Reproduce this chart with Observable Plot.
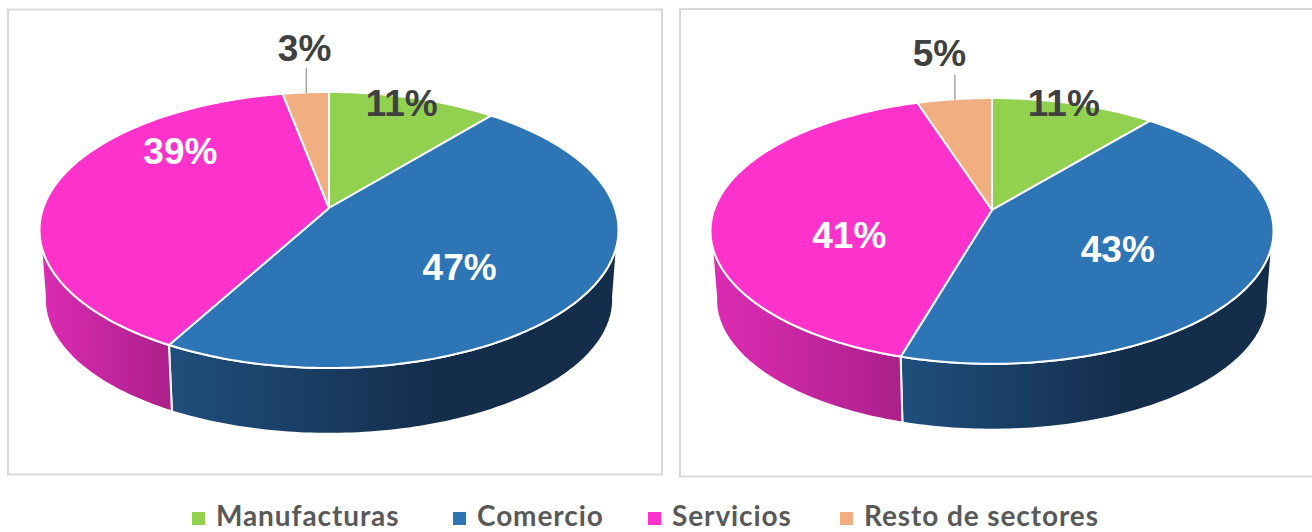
<!DOCTYPE html>
<html>
<head>
<meta charset="utf-8">
<script src="https://cdn.jsdelivr.net/npm/d3@7"></script>
<script src="https://cdn.jsdelivr.net/npm/@observablehq/plot@0.6"></script>
<style>
html,body{margin:0;padding:0;background:#fff;width:1312px;height:532px;overflow:hidden}
#chart svg{display:block}
#legend{position:relative;height:32px;font-family:"Lato",sans-serif;font-weight:700;font-size:28px;letter-spacing:.9px;color:#595959}
#legend .item{position:absolute;top:2px;white-space:nowrap;line-height:26px}
#legend .sw{position:absolute;top:12px;width:13px;height:13px}
</style>
</head>
<body>
<div id="chart"></div>
<div id="legend"></div>
<script>
// ---- data ----
const categories = ["Manufacturas", "Comercio", "Servicios", "Resto de sectores"];
const colors = ["#92d050", "#2e75b6", "#ff33cc", "#f1ae81"];
const valuesLeft = [11, 47, 39, 3];
const valuesRight = [11, 43.5, 40.5, 5];
const labelsLeft = ["11%", "47%", "39%", "3%"];
const labelsRight = ["11%", "43%", "41%", "5%"];

// ---- layout (pie geometry, not data) ----
const W = 1312, H = 500;
const pieLeft = {
  cx: 329, cy: 208, A: 285.8, B: 134.5, k: 0.1594,
  cx2: 329, cy2: 278, A2: 280.5, B2: 131,
  labelShift: [-1.7, 10.2, 29.6, 1.2], labelRadius: [0.928, 0.595, 0.715, 1.47]
};
const pieRight = {
  cx: 992, cy: 210, A: 278, B: 129.6, k: 0.1573,
  cx2: 992, cy2: 279, A2: 272.5, B2: 127,
  labelShift: [-2.4, 6.5, -20.4, 0], labelRadius: [0.984, 0.521, 0.536, 1.503]
};
const frames = [
  {x1: 8, x2: 662, y1: 9.5, y2: 474.5},
  {x1: 680, x2: 1340, y1: 9, y2: 476.5}
];
const legendAt = [[192, 216], [453, 477], [648, 672], [840, 864]];

// ---- geometry ----
const rad = d => d * Math.PI / 180;
function topPoint(p, deg, r = 1) {
  const u = r * Math.sin(rad(deg)), v = r * Math.cos(rad(deg)), w = 1 + p.k * v;
  return [p.cx + p.A * u / w, p.cy - p.B * v / w];
}
function botPoint(p, deg) {
  const u = Math.sin(rad(deg)), v = Math.cos(rad(deg)), w = 1 + p.k * v;
  return [p.cx2 + p.A2 * u / w, p.cy2 - p.B2 * v / w];
}
function arcAngles(a, b) {
  const out = d3.range(a, b, 1);
  out.push(b);
  return out;
}
function slices(values) {
  let acc = 0;
  return values.map((v, i) => {
    const s = {category: categories[i], start: acc * 3.6, end: (acc + v) * 3.6, mid: (acc + v / 2) * 3.6};
    acc += v;
    return s;
  });
}
function pieMarks(p, values, labels) {
  const ss = slices(values);
  const marks = [];
  // visible wall limits
  const wallFrom = 98, wallTo = 262;
  ss.forEach((s, i) => {
    const a = Math.max(s.start, wallFrom), b = Math.min(s.end, wallTo);
    if (b <= a) return;
    const pts = arcAngles(a, b).map(d => ({t: topPoint(p, d), b: botPoint(p, d)}));
    marks.push(Plot.area(pts, {
      x1: d => d.t[0], y1: d => d.t[1], x2: d => d.b[0], y2: d => d.b[1],
      fill: i === 1 ? "url(#wallBlue)" : "url(#wallPink)",
      stroke: "white", strokeWidth: 2
    }));
  });
  ss.forEach(s => {
    const pts = arcAngles(s.start, s.end).map(d => ({category: s.category, e: topPoint(p, d)}));
    marks.push(Plot.area(pts, {
      x1: () => p.cx, y1: () => p.cy, x2: d => d.e[0], y2: d => d.e[1],
      fill: "category", stroke: "white", strokeWidth: 2, strokeLinejoin: "round"
    }));
  });
  // leader of the smallest slice
  const edge = topPoint(p, ss[3].mid);
  marks.push(Plot.link([edge], {
    x1: d => d[0], x2: d => d[0], y1: d => d[1], y2: d => d[1] - 25,
    stroke: "#a6a6a6", strokeWidth: 1.5
  }));
  const lab = ss.map((s, i) => {
    const [x, y] = topPoint(p, s.mid + p.labelShift[i], p.labelRadius[i]);
    return {x, y, text: labels[i], white: i === 1 || i === 2};
  });
  marks.push(Plot.text(lab, {
    x: "x", y: "y", text: "text", fill: d => d.white ? "white" : "#404040",
    fontSize: 37, fontWeight: 700, fontFamily: "Liberation Sans", textAnchor: "middle", lineAnchor: "middle"
  }));
  return marks;
}
function gradient(id, stops) {
  const g = d3.create("svg:linearGradient").attr("id", id)
    .attr("x1", 0).attr("x2", 1).attr("y1", 0).attr("y2", 0);
  stops.forEach(([o, c]) => g.append("stop").attr("offset", o).attr("stop-color", c));
  return g.node();
}
const defs = () => {
  const d = d3.create("svg:defs");
  d.append(() => gradient("wallBlue", [[0, "#1f4f7d"], [0.6, "#142d4b"], [1, "#142d4b"]]));
  d.append(() => gradient("wallPink", [[0, "#dc2cb4"], [1, "#ab2089"]]));
  return d.node();
};

const plot = Plot.plot({
  width: W, height: H, margin: 0,
  x: {domain: [0, W], range: [0, W], axis: null},
  y: {domain: [0, H], range: [0, H], axis: null},
  color: {domain: categories, range: colors},
  style: {background: "white"},
  marks: [
    defs,
    Plot.rect(frames, {x1: "x1", x2: "x2", y1: "y1", y2: "y2", fill: "none", stroke: "#d9d9d9", strokeWidth: 2}),
    ...pieMarks(pieLeft, valuesLeft, labelsLeft),
    ...pieMarks(pieRight, valuesRight, labelsRight)
  ]
});
document.getElementById("chart").append(plot);

const legend = d3.select("#legend");
categories.forEach((c, i) => {
  legend.append("div").attr("class", "sw").style("left", legendAt[i][0] + "px").style("background", colors[i]);
  legend.append("div").attr("class", "item").style("left", legendAt[i][1] + "px").text(c);
});
</script>
</body>
</html>
